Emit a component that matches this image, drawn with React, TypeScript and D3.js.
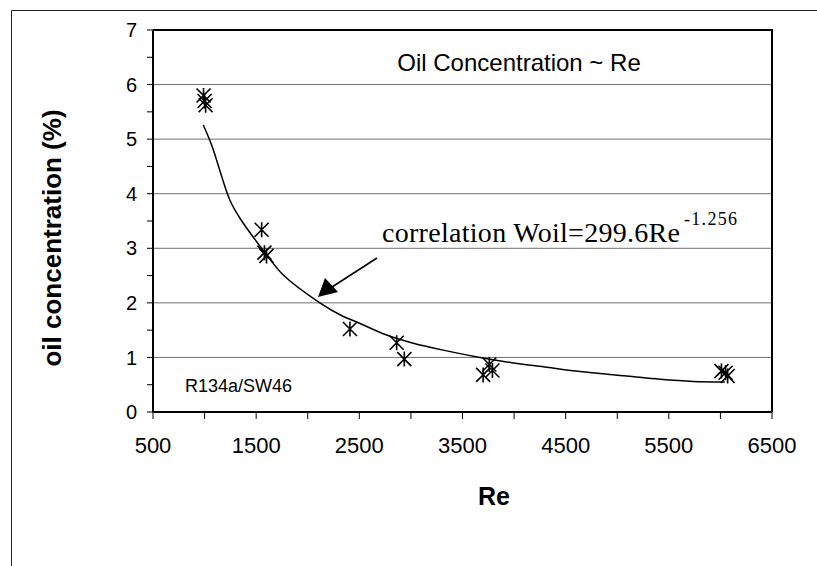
import { useEffect, useRef } from "react";
import * as d3 from "d3";

// measured points (Re, oil concentration %)
const pointRe = [990, 1000, 1010, 1553, 1580, 1600, 2409, 2862, 2936, 3700, 3760, 3790, 6010, 6050, 6070];
const pointOil = [5.8, 5.7, 5.62, 3.34, 2.92, 2.86, 1.52, 1.27, 0.97, 0.68, 0.87, 0.76, 0.75, 0.72, 0.66];

// correlation curve
const curveRe = [987, 1069, 1246, 1343, 1602, 1763, 2102, 2345, 2474, 2765, 3023, 3347, 3669, 3992, 4316, 4639, 5091, 5414, 5737, 6043];
const curveOil = [5.26, 4.89, 3.88, 3.55, 2.88, 2.51, 2.02, 1.75, 1.65, 1.41, 1.26, 1.12, 1.0, 0.9, 0.82, 0.74, 0.66, 0.6, 0.56, 0.55];

const xTicks = [500, 1000, 1500, 2000, 2500, 3000, 3500, 4000, 4500, 5000, 5500, 6000, 6500];
const xLabels = [500, 1500, 2500, 3500, 4500, 5500, 6500];
const yTicks = d3.range(0, 7.01, 0.5);
const yLabels = [0, 1, 2, 3, 4, 5, 6, 7];

const W = 817;
const H = 566;
const sans = "Liberation Sans, Arial, sans-serif";

const App = () => {
  const ref = useRef<SVGSVGElement>(null);

  useEffect(() => {
    if (!ref.current) return;
    const svg = d3.select(ref.current);
    svg.selectAll("*").remove();

    const x = d3.scaleLinear().domain([500, 6500]).range([153, 772]);
    const y = d3.scaleLinear().domain([0, 7]).range([412, 30]);

    // outer frame
    svg.append("path")
      .attr("d", `M11.5,${H} V10.5 H${W}`)
      .attr("fill", "none")
      .attr("stroke", "#222")
      .attr("stroke-width", 1);

    // gridlines
    svg.append("g")
      .selectAll("line")
      .data(yLabels.filter((d) => d > 0 && d < 7))
      .join("line")
      .attr("x1", x(500))
      .attr("x2", x(6500))
      .attr("y1", (d) => y(d))
      .attr("y2", (d) => y(d))
      .attr("stroke", "#707070")
      .attr("stroke-width", 1);

    // plot border top / right
    svg.append("path")
      .attr("d", `M${x(500)},${y(7)} H${x(6500)} V${y(0)}`)
      .attr("fill", "none")
      .attr("stroke", "#000")
      .attr("stroke-width", 2);

    // y axis
    const yAxis = svg.append("g");
    yAxis.append("line")
      .attr("x1", x(500)).attr("x2", x(500))
      .attr("y1", y(0)).attr("y2", y(7))
      .attr("stroke", "#000").attr("stroke-width", 2);
    yAxis.selectAll("line.t")
      .data(yTicks)
      .join("line")
      .attr("class", "t")
      .attr("x1", x(500) - 6).attr("x2", x(500))
      .attr("y1", (d) => y(d)).attr("y2", (d) => y(d))
      .attr("stroke", "#000").attr("stroke-width", 1);
    yAxis.selectAll("text")
      .data(yLabels)
      .join("text")
      .attr("x", 137)
      .attr("y", (d) => y(d))
      .attr("dy", "0.36em")
      .attr("text-anchor", "end")
      .attr("font-family", sans)
      .attr("font-size", 20)
      .text((d) => d);

    // x axis
    const xAxis = svg.append("g");
    xAxis.append("line")
      .attr("x1", x(500)).attr("x2", x(6500))
      .attr("y1", y(0)).attr("y2", y(0))
      .attr("stroke", "#000").attr("stroke-width", 2);
    xAxis.selectAll("line.t")
      .data(xTicks)
      .join("line")
      .attr("class", "t")
      .attr("x1", (d) => x(d)).attr("x2", (d) => x(d))
      .attr("y1", y(0)).attr("y2", y(0) + 7)
      .attr("stroke", "#000").attr("stroke-width", 1);
    xAxis.selectAll("text")
      .data(xLabels)
      .join("text")
      .attr("x", (d) => x(d))
      .attr("y", 453)
      .attr("text-anchor", "middle")
      .attr("font-family", sans)
      .attr("font-size", 22)
      .text((d) => d);

    // axis titles
    svg.append("text")
      .attr("x", 494)
      .attr("y", 505)
      .attr("text-anchor", "middle")
      .attr("font-family", sans)
      .attr("font-weight", "bold")
      .attr("font-size", 25)
      .text("Re");
    svg.append("text")
      .attr("transform", "translate(61,238) rotate(-90)")
      .attr("text-anchor", "middle")
      .attr("font-family", sans)
      .attr("font-weight", "bold")
      .attr("font-size", 26)
      .text("oil concentration (%)");

    // title and notes
    svg.append("text")
      .attr("x", 519)
      .attr("y", 71)
      .attr("text-anchor", "middle")
      .attr("font-family", sans)
      .attr("font-size", 24)
      .text("Oil Concentration ~ Re");
    svg.append("text")
      .attr("x", 185)
      .attr("y", 392)
      .attr("font-family", sans)
      .attr("font-size", 18)
      .text("R134a/SW46");

    const corr = svg.append("g")
      .attr("font-family", "Liberation Serif, Times New Roman, serif");
    corr.append("text")
      .attr("x", 382)
      .attr("y", 242)
      .attr("font-size", 28)
      .attr("textLength", 298)
      .attr("lengthAdjust", "spacing")
      .text("correlation Woil=299.6Re");
    corr.append("text")
      .attr("x", 684)
      .attr("y", 225)
      .attr("font-size", 18)
      .attr("textLength", 53)
      .attr("lengthAdjust", "spacing")
      .text("-1.256");

    // arrow
    svg.append("line")
      .attr("x1", 377).attr("y1", 258)
      .attr("x2", 332).attr("y2", 287)
      .attr("stroke", "#000").attr("stroke-width", 1.5);
    svg.append("path")
      .attr("d", "M318,297 L325,278 L338,292 Z")
      .attr("fill", "#000");

    // correlation curve
    const line = d3.line<number>()
      .x((_, i) => x(curveRe[i]))
      .y((d) => y(d))
      .curve(d3.curveCatmullRom);
    svg.append("path")
      .attr("d", line(curveOil))
      .attr("fill", "none")
      .attr("stroke", "#000")
      .attr("stroke-width", 1.5);

    // asterisk markers
    const r = 7.5;
    const a = 7;
    const star = `M0,${-r}V${r}M${-a},${-a}L${a},${a}M${-a},${a}L${a},${-a}`;
    svg.append("g")
      .selectAll("path")
      .data(pointOil)
      .join("path")
      .attr("transform", (d, i) => `translate(${x(pointRe[i])},${y(d)})`)
      .attr("d", star)
      .attr("fill", "none")
      .attr("stroke", "#000")
      .attr("stroke-width", 1.6);
  }, []);

  return (
    <svg
      ref={ref}
      width={W}
      height={H}
      style={{ position: "absolute", left: 0, top: 0, background: "#fff" }}
    />
  );
};

export default App;
